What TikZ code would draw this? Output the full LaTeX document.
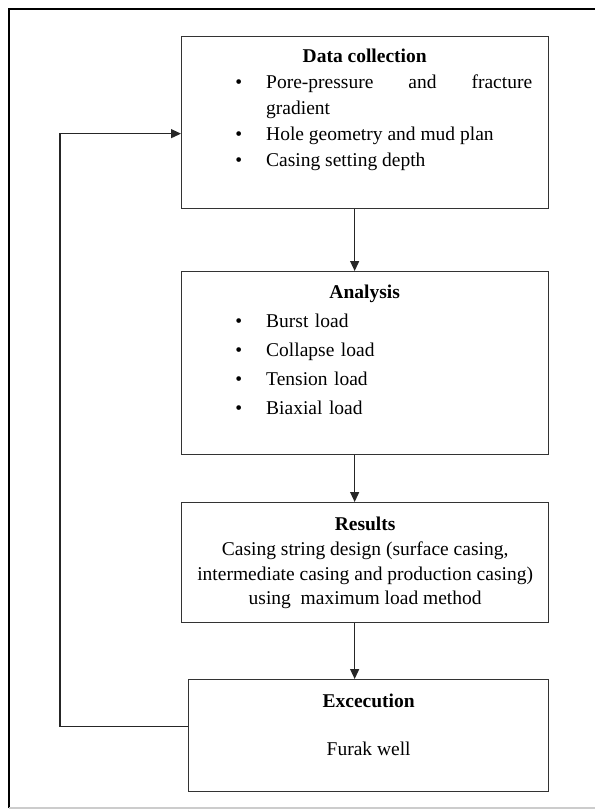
\documentclass[tikz,border=0pt]{standalone}
\usepackage{fontspec}
\setmainfont{Liberation Serif}
\usepackage{enumitem}
\usetikzlibrary{arrows.meta}
\setlist[itemize]{label=\textbullet,leftmargin=85pt,labelsep=24pt,rightmargin=16pt,
  topsep=0pt,partopsep=0pt,parsep=0pt,itemsep=0pt}

\begin{document}
\begin{tikzpicture}[x=1pt,y=-1pt,
    caja/.style={draw=black!80,line width=1.3pt,anchor=north west,inner sep=0pt},
    texto/.style={inner sep=0pt,font=\fontsize{19.5}{26}\selectfont},
    flecha/.style={draw=black!85,line width=1.2pt,-{Triangle[length=10pt,width=9pt]}}]
      \useasboundingbox (0,0) rectangle (595,810);
      % Marco de la pagina
      \draw[black,line width=1.5pt] (9,808) -- (9,9) -- (595,9);
      \draw[black!20,line width=1.5pt] (9,808) -- (595,808);
      % Cajas
      \node[caja,minimum width=367pt,minimum height=172pt] (collect) at (181,36)  {};
      \node[caja,minimum width=367pt,minimum height=183pt] (analysis) at (181,271) {};
      \node[caja,minimum width=367pt,minimum height=120pt] (results) at (181,502) {};
      \node[caja,minimum width=360pt,minimum height=112pt] (exec) at (188,679) {};
      % Textos de las cajas
      \node[texto,anchor=north west,text width=367pt,align=justify] (collecttxt)
        at ([yshift=-13pt]collect.north west) {\parskip=0pt\hyphenpenalty=10000\exhyphenpenalty=10000
        {\centering\textbf{Data collection}\par}
        \begin{itemize}
          \item Pore-pressure and fracture gradient
          \item Hole geometry and mud plan
          \item Casing setting depth
        \end{itemize}};
      \node[texto,anchor=north west,text width=367pt] (analysistxt)
        at ([yshift=-14pt]analysis.north west) {\parskip=0pt
        {\centering\textbf{Analysis}\par}
        \begin{itemize}[topsep=3pt,itemsep=3pt]
          \item Burst load
          \item Collapse load
          \item Tension load
          \item Biaxial load
        \end{itemize}};
      \node[texto,anchor=north,align=center,font=\fontsize{19.5}{24.5}\selectfont] (resultstxt)
        at ([yshift=-15pt]results.north) {\textbf{Results}\\[0.5pt]
        Casing string design (surface casing,\\
        intermediate casing and production casing)\\
        using\ \ maximum load method};
      \node[texto,anchor=north,align=center] (exectxt)
        at ([yshift=-15pt]exec.north) {\textbf{Excecution}\\[22pt] Furak well};
      % Flechas
      \draw[flecha] ([xshift=-10.5pt]collect.south) -- ([xshift=-10.5pt]analysis.north);
      \draw[flecha] ([xshift=-10.5pt]analysis.south) -- ([xshift=-10.5pt]results.north);
      \draw[flecha] ([xshift=-10.5pt]results.south) -- ([xshift=-14pt]exec.north);
      % Retorno
      \draw[flecha] ([yshift=9pt]exec.west) -- ++(-128pt,0) |- ([yshift=-11pt]collect.west);
    \end{tikzpicture}
\end{document}
